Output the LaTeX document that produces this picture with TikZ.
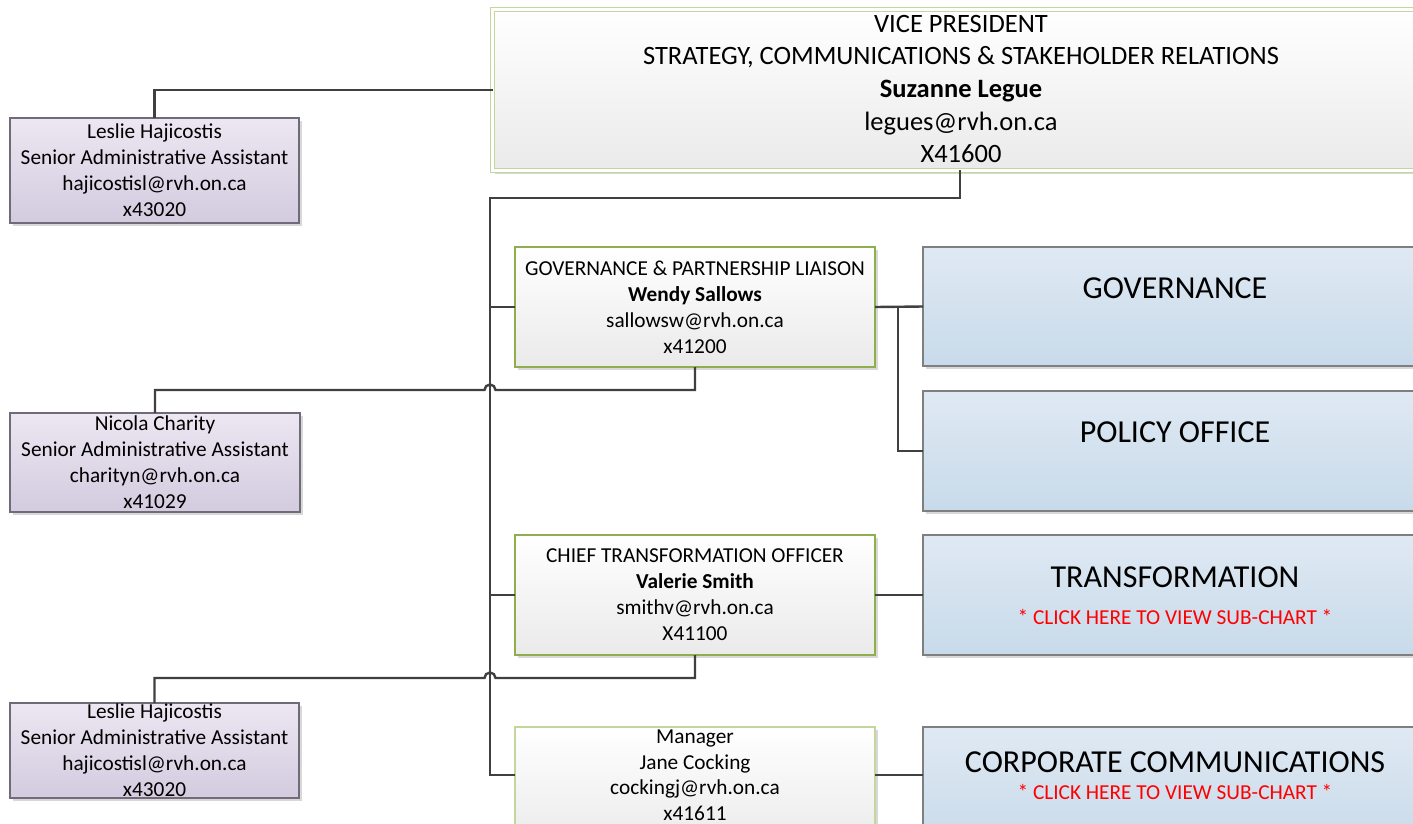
\documentclass[tikz,border=0pt]{standalone}
\usepackage{fontspec}
\setmainfont{Carlito}
\usetikzlibrary{shadows,calc}
\definecolor{conncol}{HTML}{404040}
\definecolor{bluetop}{HTML}{DFE9F3}
\definecolor{bluebot}{HTML}{C8DAEA}
\definecolor{blueline}{HTML}{7F7F7F}
\definecolor{purptop}{HTML}{ECE7F2}
\definecolor{purpbot}{HTML}{D3CBDF}
\definecolor{purpline}{HTML}{6F6B78}
\definecolor{greenline}{HTML}{8FAE4E}
\definecolor{lightgreen}{HTML}{C3D69B}
\definecolor{greybot}{HTML}{EAEAEA}
\definecolor{redtext}{HTML}{FF0000}
\tikzset{
  conn/.style={draw=conncol, line width=2.4pt},
  shad/.style={drop shadow={shadow xshift=2.5pt, shadow yshift=-3pt, opacity=0.25, fill=black!60}},
  bluebox/.style={shad, draw=blueline, line width=1.6pt, top color=bluetop, bottom color=bluebot, inner sep=0pt, outer sep=0pt},
  purpbox/.style={shad, draw=purpline, line width=1.2pt, top color=purptop, bottom color=purpbot, inner sep=0pt, outer sep=0pt, align=center, font=\fontsize{21.3}{26}\selectfont},
  greenbox/.style={shad, draw=greenline, line width=2.2pt, top color=white, bottom color=greybot, inner sep=0pt, outer sep=0pt, align=center, font=\fontsize{21.3}{26}\selectfont},
  mgrbox/.style={shad, draw=lightgreen, line width=1.4pt, top color=white, bottom color=greybot, inner sep=0pt, outer sep=0pt},
  boxtext/.style={inner sep=0pt, align=center, font=\fontsize{21.3}{25.5}\selectfont},
  vpbox/.style={shad, draw=lightgreen, double=white, double distance=3pt, line width=1.1pt, top color=white, bottom color=greybot, inner sep=0pt, outer sep=0pt},
  vptext/.style={inner sep=0pt, align=center, font=\fontsize{26.5}{32.6}\selectfont},
  title/.style={inner sep=0pt, font=\fontsize{32}{38}\selectfont},
  redlink/.style={inner sep=0pt, text=redtext, font=\fontsize{21.3}{26}\selectfont},
}
\begin{document}
\begin{tikzpicture}[x=1pt, y=-1pt]
\useasboundingbox (0,0) rectangle (1413,823);
\clip (0,0) rectangle (1413,823);
\fill[white] (0,0) rectangle (1413,823);

% boxes
\node[vpbox, minimum width=990pt, minimum height=161pt, anchor=west] (vp) at (492.5,90) {};
\node[vptext] (vpt) at (961,89)
  {VICE PRESIDENT\\STRATEGY, COMMUNICATIONS \& STAKEHOLDER RELATIONS\\\textbf{Suzanne Legue}\\legues@rvh.on.ca\\X41600};

\node[purpbox, minimum width=289pt, minimum height=105pt] (les1) at (154.5,170.5)
  {Leslie Hajicostis\\Senior Administrative Assistant\\hajicostisl@rvh.on.ca\\x43020};
\node[purpbox, minimum width=290pt, minimum height=99pt] (nic) at (155,462.5)
  {Nicola Charity\\Senior Administrative Assistant\\charityn@rvh.on.ca\\x41029};
\node[purpbox, minimum width=289pt, minimum height=95pt] (les2) at (154.5,750.5)
  {Leslie Hajicostis\\Senior Administrative Assistant\\hajicostisl@rvh.on.ca\\x43020};

\node[greenbox, minimum width=360pt, minimum height=120pt] (wendy) at (695,307)
  {GOVERNANCE \& PARTNERSHIP LIAISON\\\textbf{Wendy Sallows}\\sallowsw@rvh.on.ca\\x41200};
\node[greenbox, minimum width=360pt, minimum height=120pt] (val) at (695,595)
  {CHIEF TRANSFORMATION OFFICER\\\textbf{Valerie Smith}\\smithv@rvh.on.ca\\X41100};
\node[mgrbox, minimum width=360pt, minimum height=120pt, anchor=north] (man) at (695,727) {};
\node[boxtext] (mant) at (695,775) {Manager\\Jane Cocking\\cockingj@rvh.on.ca\\x41611};

\node[bluebox, minimum width=530pt, minimum height=119pt, anchor=west] (gov) at (923,306.5) {};
\node[bluebox, minimum width=530pt, minimum height=120pt, anchor=west] (pol) at (923,451) {};
\node[bluebox, minimum width=530pt, minimum height=120pt, anchor=west] (tra) at (923,595) {};
\node[bluebox, minimum width=530pt, minimum height=120pt, anchor=north west] (corp) at (923,727) {};

\node[title] (govt) at (1175,288) {GOVERNANCE};
\node[title] (polt) at (1175,432) {POLICY OFFICE};
\node[title] (trat) at (1175,577) {TRANSFORMATION};
\node[redlink] (tral) at (1175,617) {* CLICK HERE TO VIEW SUB-CHART *};
\node[title] (corpt) at (1175,762) {CORPORATE COMMUNICATIONS};
\node[redlink] (corpl) at (1175,792) {* CLICK HERE TO VIEW SUB-CHART *};

% connectors
\coordinate (trunk) at (490,198);
\coordinate (j1) at (490,390);
\coordinate (j2) at (490,678);
\coordinate (split) at (898,307);
\coordinate (vpdrop) at (960,170);
\coordinate (manw) at ($(man.north west)+(0,48)$);
\coordinate (mane) at ($(man.north east)+(0,48)$);
\coordinate (corpw) at ($(corp.north west)+(0,48)$);

\draw[conn] (vp.west) -| (les1.north);
\draw[conn] (vpdrop) |- (trunk) -- (trunk |- manw) -- (manw);
\draw[conn] (trunk |- wendy.west) -- (wendy.west);
\draw[conn] (trunk |- val.west) -- (val.west);

\draw[conn] (wendy.south) |- ([xshift=5.5pt]j1) arc[start angle=0, end angle=180, radius=5.5pt] -| (nic.north);
\draw[conn] (val.south) |- ([xshift=5.5pt]j2) arc[start angle=0, end angle=180, radius=5.5pt] -| (les2.north);

\draw[conn] (wendy.east) -- (gov.west);
\draw[conn] (split) |- (pol.west);
\draw[conn] (val.east) -- (tra.west);
\draw[conn] (mane) -- (corpw);
\end{tikzpicture}
\end{document}
